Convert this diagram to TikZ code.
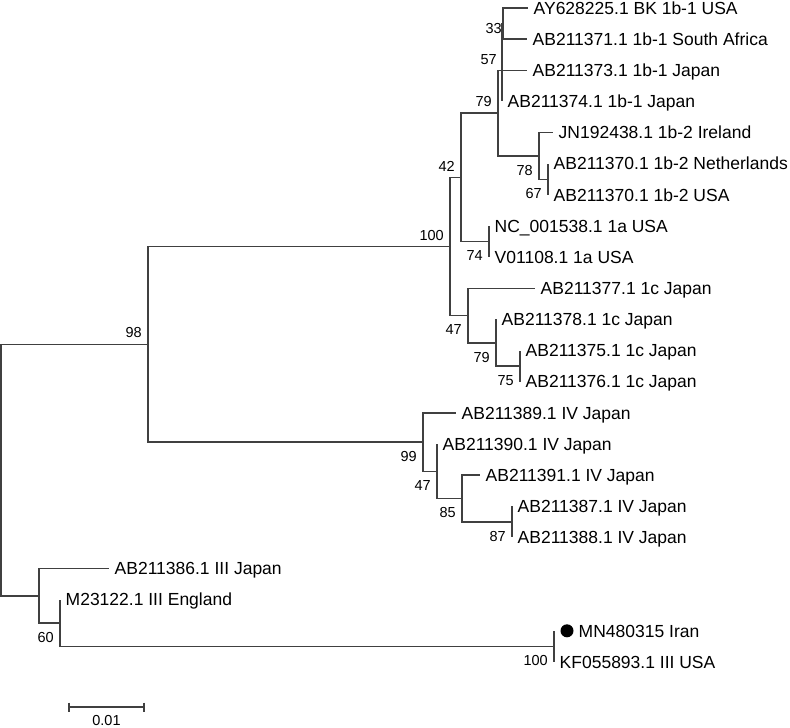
\documentclass[tikz,border=0pt]{standalone}
\usepackage{fontspec}
\setmainfont{Liberation Sans}
\usetikzlibrary{positioning}
\tikzstyle{leaf} = [anchor=west, inner xsep=5.5pt, inner ysep=0pt, text height=12.5pt, text depth=0pt, font=\fontsize{17.5}{20}\selectfont]
\tikzstyle{boot} = [inner sep=0pt, font=\fontsize{14.5}{17}\selectfont]
\tikzstyle{bootAbove} = [boot, anchor=south east, xshift=-6pt, yshift=6pt]
\tikzstyle{bootBelow} = [boot, anchor=north east, xshift=-6pt, yshift=-9pt]
\tikzstyle{branch} = [line width=1.4pt, draw=black!75]
\tikzstyle{marker} = [circle, fill=black, inner sep=0pt, minimum size=13pt]

\begin{document}
\begin{tikzpicture}[x=1pt, y=-1pt]
\useasboundingbox (0,0) rectangle (790,728);
% Define inner nodes
\coordinate (root) at (1,470);
\coordinate (b98) at (148,344.2);
\coordinate (b100) at (450,246.4);
\coordinate (b42) at (461,177.3);
\coordinate (b79a) at (498,113.1);
\coordinate (b57) at (502,70.3);
\coordinate (b33) at (503,23.6);
\coordinate (b78) at (539,156);
\coordinate (b67) at (548,179.3);
\coordinate (b74) at (489,241.6);
\coordinate (b47a) at (468,315.5);
\coordinate (b79b) at (496,342.8);
\coordinate (b75) at (520,366.1);
\coordinate (b99) at (423,442);
\coordinate (b47b) at (437,471.2);
\coordinate (b85) at (462,498.5);
\coordinate (b87) at (512,521.8);
\coordinate (cIII) at (39,595.8);
\coordinate (b60) at (60,623);
\coordinate (b100b) at (554,646.4);
% Define leaves
\node (AY628225) [leaf] at (528,8) {AY628225.1 BK 1b-1 USA};
\node (AB211371) [leaf] at (527,39.1) {AB211371.1 1b-1 South Africa};
\node (AB211373) [leaf] at (527,70.3) {AB211373.1 1b-1 Japan};
\node (AB211374) [leaf] at (502,101.4) {AB211374.1 1b-1 Japan};
\node (JN192438) [leaf] at (553,132.6) {JN192438.1 1b-2 Ireland};
\node (AB211370nl) [leaf] at (548,163.7) {AB211370.1 1b-2 Netherlands};
\node (AB211370us) [leaf] at (548,194.8) {AB211370.1 1b-2 USA};
\node (NC001538) [leaf] at (489,226) {NC\_001538.1 1a USA};
\node (V01108) [leaf] at (489,257.1) {V01108.1 1a USA};
\node (AB211377) [leaf] at (535,288.3) {AB211377.1 1c Japan};
\node (AB211378) [leaf] at (496,319.4) {AB211378.1 1c Japan};
\node (AB211375) [leaf] at (520,350.5) {AB211375.1 1c Japan};
\node (AB211376) [leaf] at (520,381.7) {AB211376.1 1c Japan};
\node (AB211389) [leaf] at (456,412.8) {AB211389.1 IV Japan};
\node (AB211390) [leaf] at (437,444) {AB211390.1 IV Japan};
\node (AB211391) [leaf] at (480,475.1) {AB211391.1 IV Japan};
\node (AB211387) [leaf] at (512,506.2) {AB211387.1 IV Japan};
\node (AB211388) [leaf] at (512,537.4) {AB211388.1 IV Japan};
\node (AB211386) [leaf] at (109,568.5) {AB211386.1 III Japan};
\node (M23122) [leaf] at (60,599.7) {M23122.1 III England};
\node (irDot) [marker] at (567,630.8) {};
\node (MN480315) [leaf] at (573,630.8) {MN480315 Iran};
\node (KF055893) [leaf] at (554,662) {KF055893.1 III USA};
% Bootstrap values
\node [bootAbove] at (b98) {98};
\node [bootAbove] at (b100) {100};
\node [bootAbove] at (b42) {42};
\node [bootAbove] at (b79a) {79};
\node [boot, anchor=east] at (497,60) {57};
\node [boot, anchor=east] at (502,29) {33};
\node [bootBelow] at (b78) {78};
\node [bootBelow] at (b67) {67};
\node [bootBelow] at (b74) {74};
\node [bootBelow] at (b47a) {47};
\node [bootBelow] at (b79b) {79};
\node [bootBelow] at (b75) {75};
\node [bootBelow] at (b99) {99};
\node [bootBelow] at (b47b) {47};
\node [bootBelow] at (b85) {85};
\node [bootBelow] at (b87) {87};
\node [bootBelow] at (b60) {60};
\node [bootBelow] at (b100b) {100};
% Connect nodes with branches
\draw [branch] (root) |- (b98);
\draw [branch] (root) |- (cIII);
\draw [branch] (b98) |- (b100);
\draw [branch] (b98) |- (b99);
\draw [branch] (b100) |- (b42);
\draw [branch] (b100) |- (b47a);
\draw [branch] (b42) |- (b79a);
\draw [branch] (b42) |- (b74);
\draw [branch] (b79a) |- (b57);
\draw [branch] (b79a) |- (AB211373.west);
\draw [branch] (b79a) |- (b78);
\draw [branch] (b57) |- (b33);
\draw [branch] (b57) |- (AB211374.west);
\draw [branch] (b33) |- (AY628225.west);
\draw [branch] (b33) |- (AB211371.west);
\draw [branch] (b78) |- (JN192438.west);
\draw [branch] (b78) |- (b67);
\draw [branch] (b67) |- (AB211370nl.west);
\draw [branch] (b67) |- (AB211370us.west);
\draw [branch] (b74) |- (NC001538.west);
\draw [branch] (b74) |- (V01108.west);
\draw [branch] (b47a) |- (AB211377.west);
\draw [branch] (b47a) |- (b79b);
\draw [branch] (b79b) |- (AB211378.west);
\draw [branch] (b79b) |- (b75);
\draw [branch] (b75) |- (AB211375.west);
\draw [branch] (b75) |- (AB211376.west);
\draw [branch] (b99) |- (AB211389.west);
\draw [branch] (b99) |- (b47b);
\draw [branch] (b47b) |- (AB211390.west);
\draw [branch] (b47b) |- (b85);
\draw [branch] (b85) |- (AB211391.west);
\draw [branch] (b85) |- (b87);
\draw [branch] (b87) |- (AB211387.west);
\draw [branch] (b87) |- (AB211388.west);
\draw [branch] (cIII) |- (AB211386.west);
\draw [branch] (cIII) |- (b60);
\draw [branch] (b60) |- (M23122.west);
\draw [branch] (b60) |- (b100b);
\draw [branch] (b100b) -- (b100b |- irDot);
\draw [branch] (b100b) |- (KF055893.west);
% Scale bar
\coordinate (scaleL) at (69,707);
\coordinate (scaleR) at (144,707);
\coordinate (scaleMid) at (106.5,707);
\draw [branch] (scaleL) -- (scaleR);
\draw [branch] ([yshift=4.5pt]scaleL) -- ([yshift=-4.5pt]scaleL);
\draw [branch] ([yshift=4.5pt]scaleR) -- ([yshift=-4.5pt]scaleR);
\node (scaleText) [boot, below=8pt of scaleMid] {0.01};
\end{tikzpicture}
\end{document}
